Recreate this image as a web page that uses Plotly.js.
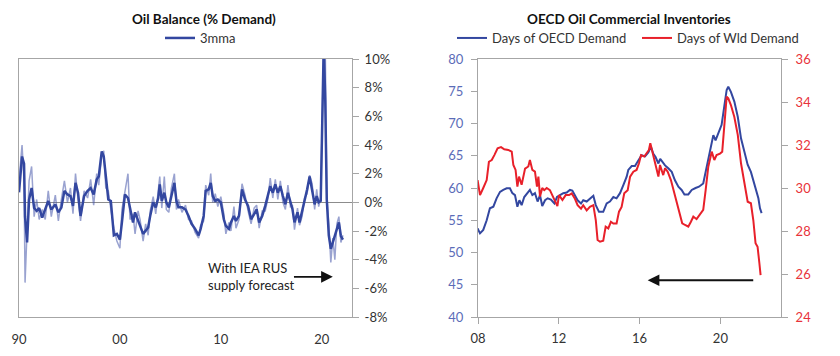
<!DOCTYPE html>
<html>
<head>
<meta charset="utf-8">
<script src="https://cdn.plot.ly/plotly-3.0.1.min.js"></script>
<style>html,body{margin:0;padding:0;background:#fff;}#chart{width:840px;height:356px;}</style>
</head>
<body>
<div id="chart"></div>
<script>
// ---- Left chart: Oil Balance (% Demand) ----
const balYears = [1990.0,1990.3,1990.5,1990.6,1990.8,1991.0,1991.25,1991.5,1991.75,1992.0,1992.3,1992.6,1992.9,1993.2,1993.6,1993.9,1994.2,1994.5,1994.8,1995.1,1995.35,1995.6,1995.85,1996.1,1996.45,1996.8,1997.1,1997.4,1997.7,1997.9,1998.2,1998.4,1998.6,1998.85,1999.1,1999.4,1999.7,2000.0,2000.2,2000.5,2000.8,2001.0,2001.3,2001.5,2001.8,2002.0,2002.3,2002.55,2002.8,2003.0,2003.3,2003.55,2003.8,2003.95,2004.15,2004.4,2004.6,2004.85,2005.1,2005.4,2005.6,2005.8,2006.15,2006.5,2006.8,2007.1,2007.45,2007.8,2008.0,2008.3,2008.5,2008.8,2009.0,2009.2,2009.45,2009.7,2010.0,2010.3,2010.5,2010.8,2011.0,2011.3,2011.5,2011.8,2012.1,2012.4,2012.7,2013.0,2013.3,2013.55,2013.8,2014.1,2014.4,2014.65,2014.9,2015.15,2015.4,2015.65,2015.9,2016.15,2016.4,2016.65,2016.9,2017.1,2017.3,2017.6,2017.8,2018.05,2018.3,2018.55,2018.8,2019.05,2019.3,2019.5,2019.7,2019.9,2020.0,2020.2,2020.35,2020.5,2020.7,2020.9,2021.1,2021.3,2021.5,2021.7,2021.9,2022.1];
const bal3mma = [0.7,3.2,2.7,-1.0,-2.8,0.2,1.0,-0.4,-0.6,-0.4,-1.06,-0.5,0.1,-0.5,-0.15,-0.7,-0.37,0.8,0.55,0.44,-0.25,1.36,0.67,-0.95,0.44,0.8,1.0,0.55,1.6,1.8,3.55,3.2,1.6,0.2,0.1,-2.3,-2.2,-2.6,-1.4,0.55,0.3,-0.5,-1.4,-0.7,-1.2,-1.64,-2.2,-2.0,-1.75,-0.95,0.0,-0.35,0.3,1.25,0.1,0.67,0.0,-0.35,0.44,1.36,0.1,-0.35,-0.35,-0.5,-0.95,-1.5,-1.85,-2.3,-1.85,-0.95,0.8,0.9,1.36,0.44,0.1,0.2,0.0,-1.2,-1.64,-1.85,-1.4,-0.95,-1.3,-0.95,0.9,0.2,-0.25,-1.18,-0.83,-0.48,-1.4,-0.95,-0.25,0.44,1.13,0.67,1.25,0.67,1.13,0.44,-0.14,0.67,0.0,-0.48,-1.4,-0.7,-1.4,-0.7,0.0,0.9,1.8,0.9,-0.14,0.44,0.0,0.1,3.67,11,7.1,0.2,-2.3,-3.25,-2.8,-2.35,-1.9,-1.4,-2.35,-2.6];
const balMonthly = [1.5,4.0,1.5,-5.6,-2.0,1.5,2.5,-1.0,0.2,-1.2,-0.5,-1.2,0.8,-1.0,0.5,-1.3,0.2,1.5,0.0,1.0,-0.8,2.0,0.2,-1.3,0.8,0.3,1.6,-0.2,2.0,1.2,3.3,3.6,1.0,0.8,-0.5,-1.8,-2.7,-3.2,-0.5,0.9,2.0,-1.2,-0.8,-2.2,-0.6,-1.2,-2.7,-1.5,-2.3,-0.6,0.4,-0.8,0.6,1.8,-0.4,1.8,-0.5,-0.7,1.0,2.0,-0.5,0.2,-0.7,-0.2,-1.2,-1.3,-2.1,-2.5,-1.6,-1.3,1.2,0.5,2.0,0.0,0.6,-0.3,0.4,-0.8,-2.2,-1.4,-2.0,-0.3,-1.8,-1.2,1.3,0.5,-0.6,-1.5,-0.4,-0.2,-1.8,-0.6,-0.6,0.2,1.7,0.3,1.6,0.2,1.5,0.0,-0.5,1.2,-0.3,-0.2,-1.9,-0.4,-1.6,-1.0,0.3,0.6,1.9,1.3,-0.5,0.9,-0.3,0.3,4.1,11,11,0.5,-1.5,-4.2,-2.5,-4.0,-1.5,-1.0,-2.8,-2.3];
const balTickVals = [-8,-6,-4,-2,0,2,4,6,8,10];
const balTickText = ['-8%','-6%','-4%','-2%','0%','2%','4%','6%','8%','10%'];
const balXTickVals = [1990,2000,2010,2020];
const balXTickText = ['90','00','10','20'];

// ---- Right chart: OECD Oil Commercial Inventories ----
const oecdYears = [2007.98,2008.10,2008.26,2008.43,2008.59,2008.76,2008.92,2009.09,2009.25,2009.42,2009.58,2009.70,2009.83,2009.95,2010.05,2010.16,2010.29,2010.46,2010.57,2010.69,2010.82,2010.95,2011.07,2011.18,2011.32,2011.45,2011.61,2011.78,2011.91,2012.06,2012.22,2012.39,2012.55,2012.67,2012.80,2012.93,2013.10,2013.21,2013.38,2013.54,2013.71,2013.83,2013.99,2014.20,2014.37,2014.53,2014.70,2014.86,2015.03,2015.20,2015.36,2015.44,2015.61,2015.77,2015.94,2016.10,2016.27,2016.43,2016.56,2016.68,2016.79,2016.93,2017.02,2017.12,2017.26,2017.42,2017.59,2017.75,2017.92,2018.08,2018.22,2018.41,2018.58,2018.77,2018.94,2019.15,2019.32,2019.48,2019.65,2019.76,2019.90,2020.06,2020.19,2020.31,2020.39,2020.52,2020.69,2020.86,2021.02,2021.18,2021.35,2021.51,2021.68,2021.79,2021.88,2021.96,2022.04];
const oecdDays = [53.75,52.97,53.5,55.0,56.85,57.1,58.4,59.4,59.7,59.95,59.95,59.2,58.9,57.1,58.1,57.35,58.6,59.2,59.7,58.9,59.2,57.9,58.9,57.2,58.1,58.4,58.2,57.6,58.6,58.9,59.2,59.3,59.7,59.6,58.9,58.1,57.6,58.1,57.9,58.4,58.8,57.35,56.3,56.3,57.6,57.9,58.6,58.4,59.2,60.5,61.75,62.8,63.4,63.4,64.3,65.1,64.9,65.5,66.4,65.3,64.8,63.8,64.5,64.0,63.5,63.05,62.5,61.2,60.2,59.7,59.0,59.0,59.7,60.0,60.2,60.7,63.3,65.9,68.2,67.4,68.5,69.8,72.6,75.2,75.7,74.9,73.4,71.05,67.7,65.9,63.6,62.5,60.7,59.2,58.4,56.85,56.1];
const wldYears = [2007.98,2008.10,2008.26,2008.43,2008.54,2008.68,2008.81,2008.97,2009.14,2009.30,2009.50,2009.67,2009.75,2009.86,2009.95,2010.03,2010.16,2010.33,2010.49,2010.57,2010.69,2010.82,2010.92,2010.99,2011.07,2011.18,2011.28,2011.40,2011.56,2011.68,2011.81,2011.93,2012.01,2012.18,2012.34,2012.51,2012.64,2012.80,2012.93,2013.10,2013.21,2013.38,2013.54,2013.71,2013.83,2013.92,2014.04,2014.20,2014.32,2014.45,2014.58,2014.70,2014.86,2014.98,2015.11,2015.24,2015.41,2015.53,2015.69,2015.85,2015.97,2016.07,2016.23,2016.35,2016.46,2016.53,2016.63,2016.73,2016.84,2016.93,2017.01,2017.09,2017.17,2017.26,2017.39,2017.55,2017.72,2017.88,2018.00,2018.11,2018.25,2018.41,2018.54,2018.66,2018.82,2018.99,2019.15,2019.27,2019.40,2019.57,2019.70,2019.81,2019.98,2020.09,2020.19,2020.31,2020.39,2020.52,2020.69,2020.86,2021.02,2021.14,2021.25,2021.35,2021.51,2021.63,2021.74,2021.84,2021.93,2021.99];
const wldDays = [30.37,29.67,30.0,30.37,31.22,31.3,31.53,31.85,31.9,31.8,31.77,31.69,31.07,30.84,30.06,30.53,30.15,30.9,31.0,31.3,30.84,30.76,30.06,30.53,29.6,30.0,29.9,30.0,29.9,29.67,29.44,29.16,29.67,29.44,29.67,29.67,29.75,29.5,29.2,29.04,29.2,28.96,29.12,29.2,28.51,27.58,27.5,27.55,28.2,28.12,28.43,28.35,28.35,28.9,29.12,29.75,29.9,30.53,30.76,30.84,31.15,31.53,31.46,31.6,31.77,32.08,31.69,31.38,31.0,30.53,31.07,30.84,30.6,30.92,30.76,30.37,29.75,29.29,28.82,28.36,28.28,28.2,28.43,28.67,28.55,28.75,28.98,29.9,30.99,31.69,31.3,31.53,31.6,31.69,32.85,34.25,34.17,33.86,33.3,32.47,31.15,30.53,30.06,29.36,29.29,28.5,27.43,27.27,26.5,25.95];
const invXTickVals = [2008,2012,2016,2020];
const invXTickText = ['08','12','16','20'];

const FONT = 'Lato, "Open Sans", sans-serif';
const BLUE = '#3347a0';
const RED = '#e8202a';
const AX = '#a6a6a6';
const ydom = [1 - 317/356, 1 - 59/356];

const traces = [
  {x: balYears, y: balMonthly, type: 'scatter', mode: 'lines', xaxis: 'x', yaxis: 'y',
   line: {color: 'rgba(70,85,170,0.55)', width: 1.5}, showlegend: false, hoverinfo: 'skip'},
  {x: balYears, y: bal3mma, type: 'scatter', mode: 'lines', name: '3mma', xaxis: 'x', yaxis: 'y',
   line: {color: BLUE, width: 2.5}, legend: 'legend'},
  {x: oecdYears, y: oecdDays, type: 'scatter', mode: 'lines', name: 'Days of OECD Demand', xaxis: 'x2', yaxis: 'y2',
   line: {color: BLUE, width: 2}, legend: 'legend2'},
  {x: wldYears, y: wldDays, type: 'scatter', mode: 'lines', name: 'Days of Wld Demand', xaxis: 'x2', yaxis: 'y3',
   line: {color: RED, width: 2}, legend: 'legend2'}
];

const layout = {
  width: 840, height: 356,
  margin: {l: 0, r: 0, t: 0, b: 0},
  paper_bgcolor: '#fff', plot_bgcolor: '#fff',
  font: {family: FONT, size: 13, color: '#333'},
  xaxis: {domain: [19/840, 352/840], range: [1990, 2023], tickvals: balXTickVals, ticktext: balXTickText,
          showgrid: false, zeroline: false, showline: true, linecolor: AX, linewidth: 1, mirror: true,
          ticks: '', ticklen: 0, ticklabelstandoff: 10, tickfont: {size: 13, color: '#333'}, anchor: 'y'},
  yaxis: {domain: ydom, range: [-8, 10], side: 'right', tickvals: balTickVals, ticktext: balTickText,
          showgrid: false, zeroline: true, zerolinecolor: '#8c8c8c', zerolinewidth: 1,
          showline: true, linecolor: AX, linewidth: 1, mirror: true, ticklabelstandoff: 3,
          ticks: 'outside', ticklen: 6, tickcolor: AX, tickfont: {size: 13, color: '#333'}, anchor: 'x'},
  xaxis2: {domain: [478/840, 781/840], range: [2008, 2023], tickvals: invXTickVals, ticktext: invXTickText,
           showgrid: false, zeroline: false, showline: true, linecolor: AX, linewidth: 1, mirror: true,
           ticks: 'outside', ticklen: 6, tickcolor: AX, ticklabelstandoff: 3, tickfont: {size: 13, color: '#333'}, anchor: 'y2'},
  yaxis2: {domain: ydom, range: [40, 80], dtick: 5, side: 'left', anchor: 'x2',
           showgrid: false, zeroline: false, showline: true, linecolor: AX, linewidth: 1, ticklabelstandoff: 5,
           ticks: 'outside', ticklen: 6, tickcolor: AX, tickfont: {size: 13, color: '#5b6cb8'}},
  yaxis3: {domain: ydom, range: [24, 36], dtick: 2, side: 'right', overlaying: 'y2', anchor: 'x2',
           showgrid: false, zeroline: false, showline: true, linecolor: AX, linewidth: 1, ticklabelstandoff: 5,
           ticks: 'outside', ticklen: 6, tickcolor: AX, tickfont: {size: 13, color: '#e8333a'}},
  legend: {orientation: 'h', x: 160/840, xanchor: 'left', y: 1 - 38/356, yanchor: 'middle',
           font: {size: 13, color: '#333'}, bgcolor: 'rgba(0,0,0,0)'},
  legend2: {orientation: 'h', x: 452/840, xanchor: 'left', y: 1 - 38/356, yanchor: 'middle',
            font: {size: 13, color: '#333'}, bgcolor: 'rgba(0,0,0,0)', entrywidth: 140},
  annotations: [
    {text: '<b>Oil Balance (% Demand)</b>', xref: 'paper', yref: 'paper', x: 204/840, y: 1 - 19/356,
     xanchor: 'center', yanchor: 'middle', showarrow: false, font: {size: 13.5, color: '#111'}},
    {text: '<b>OECD Oil Commercial Inventories</b>', xref: 'paper', yref: 'paper', x: 629/840, y: 1 - 19/356,
     xanchor: 'center', yanchor: 'middle', showarrow: false, font: {size: 13.5, color: '#111'}},
    {text: 'With IEA RUS<br>supply forecast', xref: 'x', yref: 'y', x: 2008.5, y: -5.2,
     xanchor: 'left', yanchor: 'middle', align: 'left', showarrow: false, font: {size: 13, color: '#222'}},
    {xref: 'x', yref: 'y', x: 2021.1, y: -5.2, axref: 'x', ayref: 'y', ax: 2017.1, ay: -5.2,
     showarrow: true, arrowhead: 2, arrowsize: 1.3, arrowwidth: 1.8, arrowcolor: '#111', text: ''},
    {xref: 'x2', yref: 'y2', x: 2016.4, y: 45.7, axref: 'x2', ayref: 'y2', ax: 2021.7, ay: 45.7,
     showarrow: true, arrowhead: 2, arrowsize: 1.3, arrowwidth: 1.8, arrowcolor: '#111', text: ''}
  ]
};

Plotly.newPlot('chart', traces, layout, {staticPlot: true, displayModeBar: false});
</script>
</body>
</html>
